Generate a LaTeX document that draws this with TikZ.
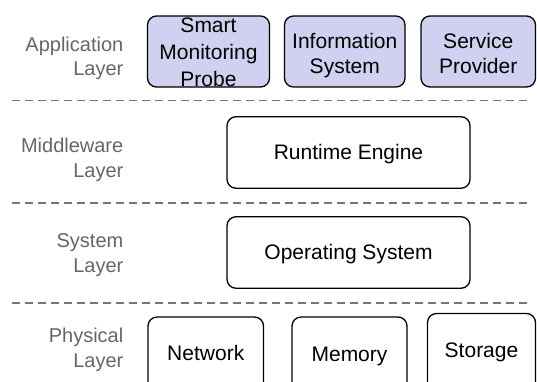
\documentclass[tikz,border=0pt]{standalone}
\usepackage{fontspec}
\setmainfont{Liberation Sans}
\definecolor{appfill}{RGB}{208,208,240}
\definecolor{labelgray}{RGB}{102,102,102}
\definecolor{dashgray}{RGB}{118,118,118}
\begin{document}
\begin{tikzpicture}[x=1pt,y=-1pt,
  box/.style={draw=black, line width=1.3pt, rounded corners=9pt, inner sep=0pt},
  appbox/.style={box, fill=appfill},
  boxtext/.style={anchor=base, inner sep=0pt, font=\fontsize{21}{25.5}\selectfont},
  laylabel/.style={anchor=base east, inner sep=0pt, text=labelgray,
    font=\fontsize{20}{24.5}\selectfont},
  sepline/.style={draw=dashgray, line width=1.5pt, dash pattern=on 8pt off 5pt}]
\useasboundingbox (0,0) rectangle (537,381);
\clip (0,0) rectangle (537,381);

% separators
\draw[sepline] (12,100.5) -- (528,100.5);
\draw[sepline] (12,203) -- (528,203);
\draw[sepline] (12,303) -- (528,303);

% layer labels
\node[laylabel] (lapp) at (123.5,51) {\begin{tabular}[t]{@{}r@{}}Application\\Layer\end{tabular}};
\node[laylabel] (lmid) at (123.5,152.5) {\begin{tabular}[t]{@{}r@{}}Middleware\\Layer\end{tabular}};
\node[laylabel] (lsys) at (123.5,247.5) {\begin{tabular}[t]{@{}r@{}}System\\Layer\end{tabular}};
\node[laylabel] (lphy) at (123.5,342.5) {\begin{tabular}[t]{@{}r@{}}Physical\\Layer\end{tabular}};

% application layer
\node[appbox, minimum width=122pt, minimum height=71pt] (smp) at (208.5,51.5) {};
\node[appbox, minimum width=120.5pt, minimum height=71pt] (info) at (344.75,51.5) {};
\node[appbox, minimum width=114.5pt, minimum height=71pt] (sp) at (478.25,51.5) {};
\node[boxtext, font=\fontsize{21}{27}\selectfont] (smpT) at (208.5,32.5)
  {\begin{tabular}[t]{@{}c@{}}Smart\\Monitoring\\Probe\end{tabular}};
\node[boxtext] (infoT) at (344.75,48) {\begin{tabular}[t]{@{}c@{}}Information\\System\end{tabular}};
\node[boxtext] (spT) at (478.25,48) {\begin{tabular}[t]{@{}c@{}}Service\\Provider\end{tabular}};

% middleware layer
\node[box, minimum width=243pt, minimum height=71.5pt] (rt) at (348.5,152.5) {};
\node[boxtext] (rtT) at (348.5,159.5) {Runtime Engine};

% system layer
\node[box, minimum width=243pt, minimum height=71.5pt] (os) at (348.5,252.5) {};
\node[boxtext] (osT) at (348.5,259.5) {Operating System};

% physical layer
\node[box, minimum width=115.5pt, minimum height=80pt] (net) at (205.75,357) {};
\node[box, minimum width=115pt, minimum height=80pt] (mem) at (349.5,357) {};
\node[box, minimum width=108pt, minimum height=84pt] (sto) at (481.5,355.5) {};
\node[boxtext] (netT) at (205.75,360) {Network};
\node[boxtext] (memT) at (349.5,361) {Memory};
\node[boxtext] (stoT) at (481.5,357.5) {Storage};
\end{tikzpicture}
\end{document}
